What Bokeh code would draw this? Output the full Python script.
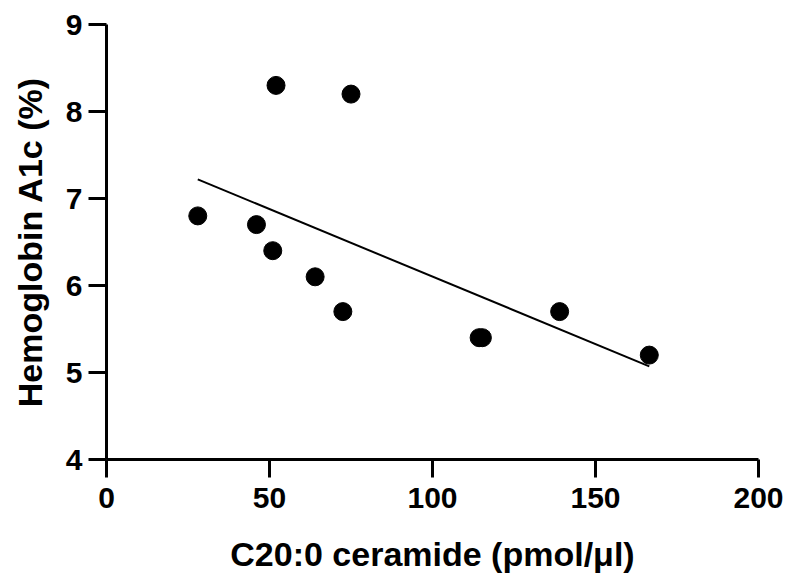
from bokeh.plotting import figure
from bokeh.models import Range1d, FixedTicker
from bokeh.embed import file_html
from bokeh.resources import INLINE

# Data
ceramide = [28, 46, 51, 52, 64, 72.5, 75, 114.3, 115.3, 139, 166.5]
hba1c = [6.8, 6.7, 6.4, 8.3, 6.1, 5.7, 8.2, 5.4, 5.4, 5.7, 5.2]

# Regression line end points
fit_x = [28, 166.5]
fit_y = [7.22, 5.07]

x_ticks = [0, 50, 100, 150, 200]
y_ticks = [4, 5, 6, 7, 8, 9]

FONT = "Liberation Sans"

p = figure(width=786, height=575, output_backend="svg", toolbar_location=None,
           x_range=Range1d(0, 200), y_range=Range1d(4, 9),
           min_border_left=106, min_border_right=28, min_border_top=24,
           min_border_bottom=115)

p.outline_line_color = None
p.background_fill_color = "white"
p.border_fill_color = "white"
p.xgrid.visible = False
p.ygrid.visible = False

p.line(fit_x, fit_y, line_color="black", line_width=2)
p.scatter(ceramide, hba1c, size=18, fill_color="black", line_color="black")

for ax in (p.xaxis[0], p.yaxis[0]):
    ax.axis_line_width = 3
    ax.axis_line_color = "black"
    ax.major_tick_line_width = 3
    ax.major_tick_line_color = "black"
    ax.major_tick_in = 0
    ax.major_tick_out = 18
    ax.minor_tick_line_color = None
    ax.major_label_text_font = FONT
    ax.major_label_text_font_style = "bold"
    ax.major_label_text_font_size = "30px"
    ax.major_label_text_color = "black"
    ax.axis_label_text_font = FONT
    ax.axis_label_text_font_style = "bold"
    ax.axis_label_text_font_size = "34px"
    ax.axis_label_text_color = "black"

p.xaxis[0].ticker = FixedTicker(ticks=x_ticks)
p.yaxis[0].ticker = FixedTicker(ticks=y_ticks)
p.xaxis[0].major_label_standoff = 10
p.yaxis[0].major_label_standoff = 6
p.xaxis[0].axis_label = "C20:0 ceramide (pmol/μl)"
p.yaxis[0].axis_label = "Hemoglobin A1c (%)"
p.xaxis[0].axis_label_standoff = 24
p.yaxis[0].axis_label_standoff = 14

open("out.html", "w").write(file_html(p, INLINE))
